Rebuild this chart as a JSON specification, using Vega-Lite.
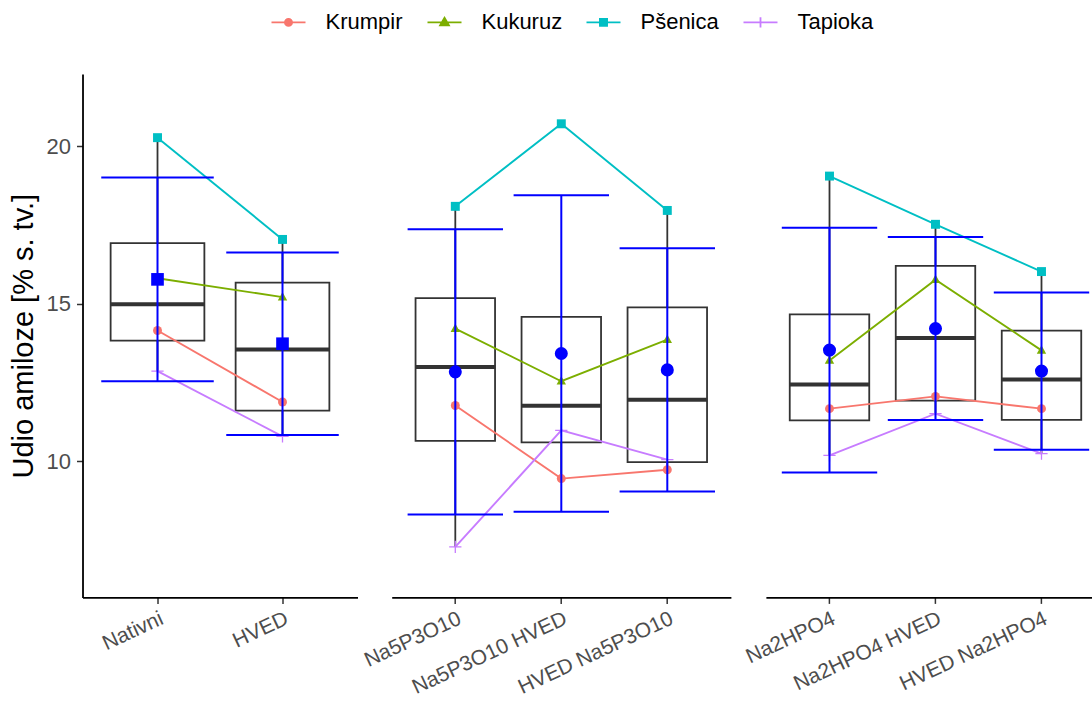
{
  "$schema": "https://vega.github.io/schema/vega-lite/v6.json",
  "padding": {"left": 8.5, "top": 4, "right": 0, "bottom": 0},
  "bounds": "flush",
  "datasets": {
    "d": [
      {"panel": 1, "tretman": "Nativni", "ord": 0, "sorta": "Krumpir", "value": 14.15},
      {"panel": 1, "tretman": "Nativni", "ord": 0, "sorta": "Kukuruz", "value": 15.81},
      {"panel": 1, "tretman": "Nativni", "ord": 0, "sorta": "Pšenica", "value": 20.27},
      {"panel": 1, "tretman": "Nativni", "ord": 0, "sorta": "Tapioka", "value": 12.86},
      {"panel": 1, "tretman": "HVED", "ord": 1, "sorta": "Krumpir", "value": 11.88},
      {"panel": 1, "tretman": "HVED", "ord": 1, "sorta": "Kukuruz", "value": 15.21},
      {"panel": 1, "tretman": "HVED", "ord": 1, "sorta": "Pšenica", "value": 17.04},
      {"panel": 1, "tretman": "HVED", "ord": 1, "sorta": "Tapioka", "value": 10.79},
      {"panel": 2, "tretman": "Na5P3O10", "ord": 0, "sorta": "Krumpir", "value": 11.77},
      {"panel": 2, "tretman": "Na5P3O10", "ord": 0, "sorta": "Kukuruz", "value": 14.21},
      {"panel": 2, "tretman": "Na5P3O10", "ord": 0, "sorta": "Pšenica", "value": 18.09},
      {"panel": 2, "tretman": "Na5P3O10", "ord": 0, "sorta": "Tapioka", "value": 7.28},
      {"panel": 2, "tretman": "Na5P3O10 HVED", "ord": 1, "sorta": "Krumpir", "value": 9.45},
      {"panel": 2, "tretman": "Na5P3O10 HVED", "ord": 1, "sorta": "Kukuruz", "value": 12.54},
      {"panel": 2, "tretman": "Na5P3O10 HVED", "ord": 1, "sorta": "Pšenica", "value": 20.71},
      {"panel": 2, "tretman": "Na5P3O10 HVED", "ord": 1, "sorta": "Tapioka", "value": 10.98},
      {"panel": 2, "tretman": "HVED Na5P3O10", "ord": 2, "sorta": "Krumpir", "value": 9.73},
      {"panel": 2, "tretman": "HVED Na5P3O10", "ord": 2, "sorta": "Kukuruz", "value": 13.86},
      {"panel": 2, "tretman": "HVED Na5P3O10", "ord": 2, "sorta": "Pšenica", "value": 17.96},
      {"panel": 2, "tretman": "HVED Na5P3O10", "ord": 2, "sorta": "Tapioka", "value": 10.05},
      {"panel": 3, "tretman": "Na2HPO4", "ord": 0, "sorta": "Krumpir", "value": 11.67},
      {"panel": 3, "tretman": "Na2HPO4", "ord": 0, "sorta": "Kukuruz", "value": 13.2},
      {"panel": 3, "tretman": "Na2HPO4", "ord": 0, "sorta": "Pšenica", "value": 19.05},
      {"panel": 3, "tretman": "Na2HPO4", "ord": 0, "sorta": "Tapioka", "value": 10.19},
      {"panel": 3, "tretman": "Na2HPO4 HVED", "ord": 1, "sorta": "Krumpir", "value": 12.06},
      {"panel": 3, "tretman": "Na2HPO4 HVED", "ord": 1, "sorta": "Kukuruz", "value": 15.76},
      {"panel": 3, "tretman": "Na2HPO4 HVED", "ord": 1, "sorta": "Pšenica", "value": 17.52},
      {"panel": 3, "tretman": "Na2HPO4 HVED", "ord": 1, "sorta": "Tapioka", "value": 11.51},
      {"panel": 3, "tretman": "HVED Na2HPO4", "ord": 2, "sorta": "Krumpir", "value": 11.67},
      {"panel": 3, "tretman": "HVED Na2HPO4", "ord": 2, "sorta": "Kukuruz", "value": 13.52},
      {"panel": 3, "tretman": "HVED Na2HPO4", "ord": 2, "sorta": "Pšenica", "value": 16.02},
      {"panel": 3, "tretman": "HVED Na2HPO4", "ord": 2, "sorta": "Tapioka", "value": 10.24}
    ]
  },
  "data": {"name": "d"},
  "spacing": 34.2,
  "resolve": {"scale": {"x": "independent", "color": "shared"}},
  "hconcat": [
    {
      "width": 275,
      "height": 523.4,
      "transform": [{"filter": "datum.panel == 1"}],
      "encoding": {
        "x": {"field": "tretman", "type": "nominal", "title": null, "sort": null,
              "scale": {"type": "band", "domain": ["Nativni", "HVED"], "paddingInner": 0, "paddingOuter": 0.1}},
        "y": {"field": "value", "type": "quantitative", "title": "Udio amiloze [% s. tv.]",
              "scale": {"domain": [5.68, 22.29], "nice": false, "zero": false},
              "axis": {"values": [10, 15, 20]}}
      },
      "layer": [
        {"mark": {"type": "boxplot", "extent": 1.5, "size": 93.75, "outliers": false,
                  "box": {"fill": "white", "stroke": "#333333", "strokeWidth": 1.8},
                  "median": {"color": "#333333", "thickness": 4, "opacity": 1},
                  "rule": {"color": "#333333", "strokeWidth": 1.8, "opacity": 1}}},
        {"mark": {"type": "line", "strokeWidth": 1.9},
         "encoding": {"color": {"field": "sorta", "type": "nominal",
            "scale": {"domain": ["Krumpir", "Kukuruz", "Pšenica", "Tapioka"], "range": ["#F8766D", "#7CAE00", "#00BFC4", "#C77CFF"]},
            "legend": {"title": null, "orient": "none", "direction": "horizontal", "legendX": 188, "legendY": -69.6,
              "padding": 0, "symbolSize": 1156, "symbolStrokeWidth": 1.8, "labelFontSize": 22, "labelFont": "Liberation Sans",
              "labelColor": "#000000", "labelOffset": 19, "columnPadding": 20,
              "encode": {"symbols": {"update": {
                "shape": {"signal": "datum.value == 'Krumpir' ? 'M-1,0H1M-0.21,0A0.21,0.21,0,1,0,0.21,0A0.21,0.21,0,1,0,-0.21,0Z' : datum.value == 'Kukuruz' ? 'M-1,0H1M0,-0.27L0.26,0.18L-0.26,0.18Z' : datum.value == 'Tapioka' ? 'M-1,0H1M0,-0.3V0.3' : 'M-1,0H1M-0.21,-0.21H0.21V0.21H-0.21Z'"},
                "stroke": {"scale": "color", "field": "value"},
                "fill": {"scale": "color", "field": "value"},
                "strokeWidth": {"value": 1.8},
                "opacity": {"value": 1}}}}}},
           "detail": {"field": "sorta"},
           "order": {"field": "ord", "type": "quantitative"}}},
        {"transform": [{"filter": "datum.sorta != 'Tapioka'"}],
         "mark": {"type": "point", "filled": true, "opacity": 1, "size": 80},
         "encoding": {"color": {"field": "sorta", "type": "nominal"},
           "shape": {"field": "sorta", "type": "nominal", "legend": null,
             "scale": {"domain": ["Krumpir", "Kukuruz", "Pšenica"], "range": ["circle", "M0,-1.15L1.05,0.75L-1.05,0.75Z", "square"]}}}},
        {"transform": [{"filter": "datum.sorta == 'Tapioka'"}],
         "mark": {"type": "point", "filled": false, "opacity": 1, "size": 150, "strokeWidth": 1.3, "shape": "M-1,0H1M0,-1V1"},
         "encoding": {"color": {"field": "sorta", "type": "nominal"}}},
        {"mark": {"type": "errorbar", "extent": "stdev", "color": "#0000FF", "opacity": 1, "thickness": 2, "size": 112.5,
                  "ticks": {"opacity": 1}, "rule": {"opacity": 1}}},
        {"mark": {"type": "point", "filled": true, "opacity": 1, "shape": "square", "size": 160, "color": "#0000FF"},
         "encoding": {"y": {"aggregate": "mean", "field": "value", "type": "quantitative", "title": "Udio amiloze [% s. tv.]"}}}
      ]
    },
    {
      "width": 339.2,
      "height": 523.4,
      "transform": [{"filter": "datum.panel == 2"}],
      "encoding": {
        "x": {"field": "tretman", "type": "nominal", "title": null, "sort": null,
              "scale": {"type": "band", "domain": ["Na5P3O10", "Na5P3O10 HVED", "HVED Na5P3O10"], "paddingInner": 0, "paddingOuter": 0.1}},
        "y": {"field": "value", "type": "quantitative", "axis": null,
              "scale": {"domain": [5.68, 22.29], "nice": false, "zero": false}}
      },
      "layer": [
        {"mark": {"type": "boxplot", "extent": 1.5, "size": 79.5, "outliers": false,
                  "box": {"fill": "white", "stroke": "#333333", "strokeWidth": 1.8},
                  "median": {"color": "#333333", "thickness": 4, "opacity": 1},
                  "rule": {"color": "#333333", "strokeWidth": 1.8, "opacity": 1}}},
        {"mark": {"type": "line", "strokeWidth": 1.9},
         "encoding": {"color": {"field": "sorta", "type": "nominal"},
           "detail": {"field": "sorta"},
           "order": {"field": "ord", "type": "quantitative"}}},
        {"transform": [{"filter": "datum.sorta != 'Tapioka'"}],
         "mark": {"type": "point", "filled": true, "opacity": 1, "size": 80},
         "encoding": {"color": {"field": "sorta", "type": "nominal"},
           "shape": {"field": "sorta", "type": "nominal", "legend": null,
             "scale": {"domain": ["Krumpir", "Kukuruz", "Pšenica"], "range": ["circle", "M0,-1.15L1.05,0.75L-1.05,0.75Z", "square"]}}}},
        {"transform": [{"filter": "datum.sorta == 'Tapioka'"}],
         "mark": {"type": "point", "filled": false, "opacity": 1, "size": 150, "strokeWidth": 1.3, "shape": "M-1,0H1M0,-1V1"},
         "encoding": {"color": {"field": "sorta", "type": "nominal"}}},
        {"mark": {"type": "errorbar", "extent": "stdev", "color": "#0000FF", "opacity": 1, "thickness": 2, "size": 95.4,
                  "ticks": {"opacity": 1}, "rule": {"opacity": 1}}},
        {"mark": {"type": "point", "filled": true, "opacity": 1, "shape": "circle", "size": 170, "color": "#0000FF"},
         "encoding": {"y": {"aggregate": "mean", "field": "value", "type": "quantitative", "axis": null}}}
      ]
    },
    {
      "width": 339.2,
      "height": 523.4,
      "transform": [{"filter": "datum.panel == 3"}],
      "encoding": {
        "x": {"field": "tretman", "type": "nominal", "title": null, "sort": null,
              "scale": {"type": "band", "domain": ["Na2HPO4", "Na2HPO4 HVED", "HVED Na2HPO4"], "paddingInner": 0, "paddingOuter": 0.1}},
        "y": {"field": "value", "type": "quantitative", "axis": null,
              "scale": {"domain": [5.68, 22.29], "nice": false, "zero": false}}
      },
      "layer": [
        {"mark": {"type": "boxplot", "extent": 1.5, "size": 79.5, "outliers": false,
                  "box": {"fill": "white", "stroke": "#333333", "strokeWidth": 1.8},
                  "median": {"color": "#333333", "thickness": 4, "opacity": 1},
                  "rule": {"color": "#333333", "strokeWidth": 1.8, "opacity": 1}}},
        {"mark": {"type": "line", "strokeWidth": 1.9},
         "encoding": {"color": {"field": "sorta", "type": "nominal"},
           "detail": {"field": "sorta"},
           "order": {"field": "ord", "type": "quantitative"}}},
        {"transform": [{"filter": "datum.sorta != 'Tapioka'"}],
         "mark": {"type": "point", "filled": true, "opacity": 1, "size": 80},
         "encoding": {"color": {"field": "sorta", "type": "nominal"},
           "shape": {"field": "sorta", "type": "nominal", "legend": null,
             "scale": {"domain": ["Krumpir", "Kukuruz", "Pšenica"], "range": ["circle", "M0,-1.15L1.05,0.75L-1.05,0.75Z", "square"]}}}},
        {"transform": [{"filter": "datum.sorta == 'Tapioka'"}],
         "mark": {"type": "point", "filled": false, "opacity": 1, "size": 150, "strokeWidth": 1.3, "shape": "M-1,0H1M0,-1V1"},
         "encoding": {"color": {"field": "sorta", "type": "nominal"}}},
        {"mark": {"type": "errorbar", "extent": "stdev", "color": "#0000FF", "opacity": 1, "thickness": 2, "size": 95.4,
                  "ticks": {"opacity": 1}, "rule": {"opacity": 1}}},
        {"mark": {"type": "point", "filled": true, "opacity": 1, "shape": "circle", "size": 170, "color": "#0000FF"},
         "encoding": {"y": {"aggregate": "mean", "field": "value", "type": "quantitative", "axis": null}}}
      ]
    }
  ],
  "config": {
    "view": {"stroke": null},
    "font": "Liberation Sans",
    "axis": {"grid": false, "domainColor": "#000000", "domainWidth": 1.8, "tickColor": "#333333", "tickWidth": 1.5, "tickSize": 6,
             "labelFont": "Liberation Sans", "labelColor": "#4D4D4D", "labelFontSize": 22, "labelPadding": 5,
             "titleFont": "Liberation Sans", "titleColor": "#000000", "titleFontWeight": "normal", "titleFontSize": 29, "titlePadding": 8},
    "axisX": {"labelAngle": -25, "labelAlign": "right", "labelBaseline": "top", "labelPadding": 4, "labelFontSize": 21},
    "axisY": {"labelPadding": 6}
  }
}
